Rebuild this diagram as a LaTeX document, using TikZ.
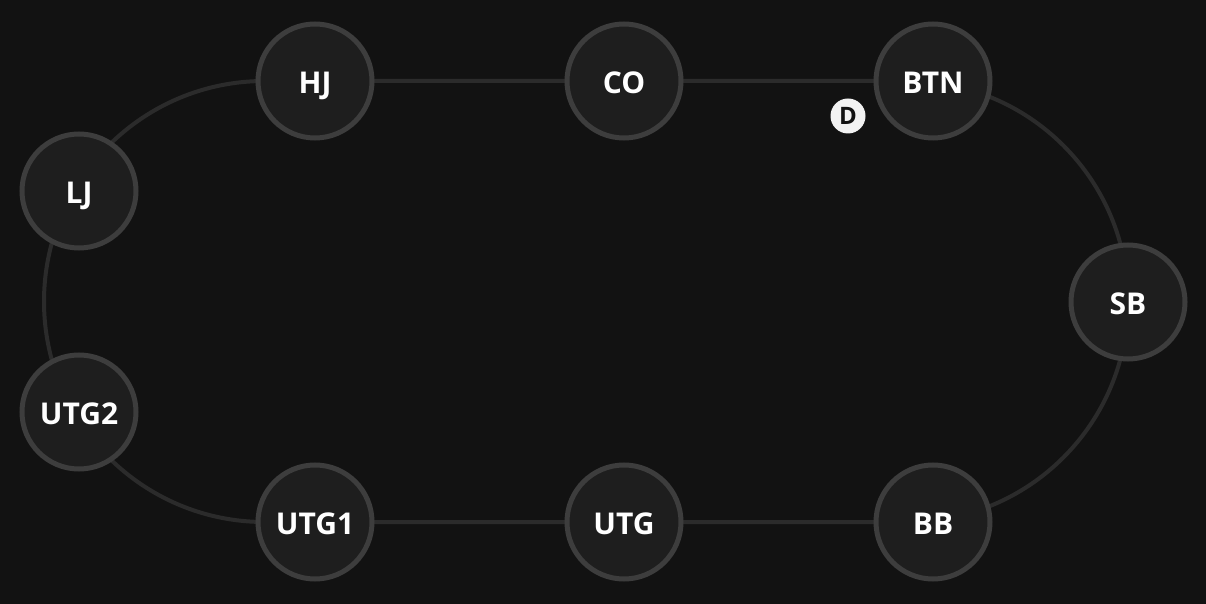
\documentclass[tikz,border=0pt]{standalone}
\usepackage{fontspec}
\setsansfont{Open Sans}
\usepackage{tikz}
\usetikzlibrary{positioning}
\definecolor{feltdark}{HTML}{121212}
\definecolor{railgray}{HTML}{2B2B2B}
\definecolor{seatfill}{HTML}{1E1E1E}
\definecolor{seatrim}{HTML}{3D3D3D}
\definecolor{chipwhite}{HTML}{F2F2F2}
\tikzset{
  seat/.style={circle, draw=seatrim, fill=seatfill, line width=2.5pt,
    minimum size=57pt, inner sep=0pt, text=white,
    text height=12.5pt, text depth=0pt,
    font=\sffamily\bfseries\fontsize{15}{18}\selectfont},
  dealerchip/.style={circle, fill=chipwhite, minimum size=17.5pt,
    inner sep=0pt, text=feltdark,
    font=\sffamily\bfseries\fontsize{12}{14}\selectfont},
  rail/.style={draw=railgray, line width=2pt},
}

\begin{document}
\begin{tikzpicture}[x=0.5pt, y=-0.5pt]
  % Background
  \fill[feltdark] (0,0) rectangle (1206,604);
  \useasboundingbox (0,0) rectangle (1206,604);

  % Table rail
  \draw[rail, rounded corners=110.25pt] (44,81) rectangle (1128,522);

  % Seats
  \foreach \pos/\x/\y in {HJ/315/81, CO/624/81, BTN/933/81,
                         LJ/79/191, SB/1128/302, UTG2/79/412,
                         UTG1/315/522, UTG/624/522, BB/933/522} {
    \node[seat] (\pos) at (\x,\y) {\pos};
  }

  % Dealer button
  \node[dealerchip] (dealer) at (848,116) {D};
\end{tikzpicture}
\end{document}
